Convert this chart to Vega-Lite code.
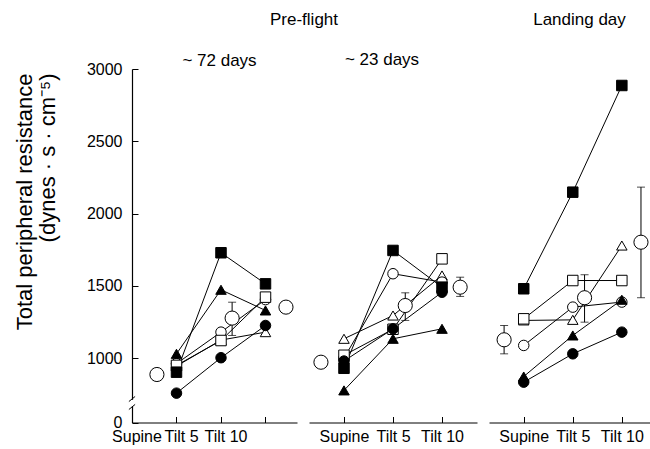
{
  "$schema": "https://vega.github.io/schema/vega-lite/v6.json",
  "padding": {"left": 12, "top": 11, "right": 0, "bottom": 0},
  "config": {
    "font": "Liberation Sans",
    "view": {"stroke": null},
    "axis": {"grid": false, "domainColor": "black", "tickColor": "black", "labelColor": "black", "labelFontSize": 16, "tickSize": -6, "titleColor": "black", "labelFlush": false},
    "title": {"fontSize": 17, "fontWeight": "normal", "color": "black"}
  },
  "datasets": {
    "ind": [
      {"p": "A", "s": "OT", "x": 1, "v": 945}, {"p": "A", "s": "OT", "x": 2, "v": 1125}, {"p": "A", "s": "OT", "x": 3, "v": 1180},
      {"p": "A", "s": "OC", "x": 1, "v": 962}, {"p": "A", "s": "OC", "x": 2, "v": 1180}, {"p": "A", "s": "OC", "x": 3, "v": 1405},
      {"p": "A", "s": "OS", "x": 1, "v": 950}, {"p": "A", "s": "OS", "x": 2, "v": 1122}, {"p": "A", "s": "OS", "x": 3, "v": 1422},
      {"p": "A", "s": "FC", "x": 1, "v": 758}, {"p": "A", "s": "FC", "x": 2, "v": 1003}, {"p": "A", "s": "FC", "x": 3, "v": 1226},
      {"p": "A", "s": "FT", "x": 1, "v": 1030}, {"p": "A", "s": "FT", "x": 2, "v": 1473}, {"p": "A", "s": "FT", "x": 3, "v": 1330},
      {"p": "A", "s": "FS", "x": 1, "v": 903}, {"p": "A", "s": "FS", "x": 2, "v": 1729}, {"p": "A", "s": "FS", "x": 3, "v": 1514},
      {"p": "B", "s": "OT", "x": 1, "v": 1134}, {"p": "B", "s": "OT", "x": 2, "v": 1295}, {"p": "B", "s": "OT", "x": 3, "v": 1572},
      {"p": "B", "s": "OC", "x": 1, "v": 1000}, {"p": "B", "s": "OC", "x": 2, "v": 1584}, {"p": "B", "s": "OC", "x": 3, "v": 1526},
      {"p": "B", "s": "OS", "x": 1, "v": 1020}, {"p": "B", "s": "OS", "x": 2, "v": 1200}, {"p": "B", "s": "OS", "x": 3, "v": 1687},
      {"p": "B", "s": "FC", "x": 1, "v": 980}, {"p": "B", "s": "FC", "x": 2, "v": 1203}, {"p": "B", "s": "FC", "x": 3, "v": 1456},
      {"p": "B", "s": "FT", "x": 1, "v": 777}, {"p": "B", "s": "FT", "x": 2, "v": 1134}, {"p": "B", "s": "FT", "x": 3, "v": 1203},
      {"p": "B", "s": "FS", "x": 1, "v": 930}, {"p": "B", "s": "FS", "x": 2, "v": 1745}, {"p": "B", "s": "FS", "x": 3, "v": 1491},
      {"p": "C", "s": "OT", "x": 1, "v": 1261}, {"p": "C", "s": "OT", "x": 2, "v": 1265}, {"p": "C", "s": "OT", "x": 3, "v": 1779},
      {"p": "C", "s": "OC", "x": 1, "v": 1088}, {"p": "C", "s": "OC", "x": 2, "v": 1353}, {"p": "C", "s": "OC", "x": 3, "v": 1388},
      {"p": "C", "s": "OS", "x": 1, "v": 1272}, {"p": "C", "s": "OS", "x": 2, "v": 1537}, {"p": "C", "s": "OS", "x": 3, "v": 1537},
      {"p": "C", "s": "FC", "x": 1, "v": 834}, {"p": "C", "s": "FC", "x": 2, "v": 1030}, {"p": "C", "s": "FC", "x": 3, "v": 1180},
      {"p": "C", "s": "FT", "x": 1, "v": 873}, {"p": "C", "s": "FT", "x": 2, "v": 1157}, {"p": "C", "s": "FT", "x": 3, "v": 1404},
      {"p": "C", "s": "FS", "x": 1, "v": 1480}, {"p": "C", "s": "FS", "x": 2, "v": 2148}, {"p": "C", "s": "FS", "x": 3, "v": 2886}
    ],
    "mean": [
      {"p": "A", "x": 0.56, "v": 887}, {"p": "A", "x": 2.25, "v": 1277, "lo": 1157, "hi": 1387}, {"p": "A", "x": 3.46, "v": 1353},
      {"p": "B", "x": 0.53, "v": 972}, {"p": "B", "x": 2.25, "v": 1364, "lo": 1261, "hi": 1452}, {"p": "B", "x": 3.37, "v": 1491, "lo": 1427, "hi": 1560},
      {"p": "C", "x": 0.60, "v": 1127, "lo": 1030, "hi": 1226}, {"p": "C", "x": 2.24, "v": 1418, "lo": 1249, "hi": 1577}, {"p": "C", "x": 3.39, "v": 1802, "lo": 1418, "hi": 2183}
    ]
  },
  "title": {"text": "Pre-flight", "anchor": "start", "frame": "group", "dx": 138, "offset": -18},
  "bounds": "flush",
  "spacing": 12,
  "resolve": {"scale": {"x": "independent", "y": "independent", "shape": "independent", "fill": "independent"}},
  "hconcat": [
    {
      "width": 165, "height": 353.5,
      "title": {"text": "~ 72 days", "dx": 5, "offset": -9},
      "encoding": {
        "x": {"field": "x", "type": "quantitative", "scale": {"domain": [0, 3.708], "nice": false, "zero": false},
          "axis": {"values": [1, 2, 3], "labelExpr": "datum.value == 1 ? 'Supine' : datum.value == 2 ? 'Tilt 5' : 'Tilt 10'", "title": null, "labelOffset": -40, "labelPadding": 12, "labelOverlap": false}},
        "y": {"field": "v", "type": "quantitative", "scale": {"domain": [555, 3000], "nice": false, "zero": false},
          "axis": {"values": [555, 1000, 1500, 2000, 2500, 3000], "format": "d", "labelExpr": "datum.value < 900 ? '0' : datum.label", "domain": true, "domainWidth": 1.2, "labelPadding": 16,
            "title": ["Total peripheral resistance", "(dynes · s · cm⁻⁵)"], "titleFontSize": 22, "titleFontWeight": "normal", "titleAlign": "right", "titleX": -96, "titleY": 4, "titleLineHeight": 23}}
      },
      "layer": [
        {"data": {"name": "ind"}, "transform": [{"filter": "datum.p == 'A'"}], "mark": {"type": "line", "color": "black", "strokeWidth": 1}, "encoding": {"detail": {"field": "s"}}},
        {"data": {"name": "mean"}, "transform": [{"filter": "datum.p == 'A' && datum.lo != null"}], "mark": {"type": "rule", "color": "black", "strokeWidth": 1},
          "encoding": {"y": {"field": "lo", "type": "quantitative"}, "y2": {"field": "hi"}}},
        {"data": {"name": "mean"}, "transform": [{"filter": "datum.p == 'A' && datum.lo != null"}], "mark": {"type": "tick", "color": "black", "orient": "horizontal", "size": 8, "thickness": 1},
          "encoding": {"y": {"field": "lo", "type": "quantitative"}}},
        {"data": {"name": "mean"}, "transform": [{"filter": "datum.p == 'A' && datum.lo != null"}], "mark": {"type": "tick", "color": "black", "orient": "horizontal", "size": 8, "thickness": 1},
          "encoding": {"y": {"field": "hi", "type": "quantitative"}}},
        {"data": {"name": "ind"}, "transform": [{"filter": "datum.p == 'A'"}], "mark": {"type": "point", "filled": true, "stroke": "black", "strokeWidth": 1, "opacity": 1, "size": 110},
          "encoding": {
            "shape": {"field": "s", "type": "nominal", "scale": {"domain": ["FS", "FT", "FC", "OS", "OT", "OC"], "range": ["square", "triangle-up", "circle", "square", "triangle-up", "circle"]}, "legend": null},
            "fill": {"field": "s", "type": "nominal", "scale": {"domain": ["FS", "FT", "FC", "OS", "OT", "OC"], "range": ["black", "black", "black", "white", "white", "white"]}, "legend": null}}},
        {"data": {"name": "mean"}, "transform": [{"filter": "datum.p == 'A'"}], "mark": {"type": "point", "shape": "circle", "filled": true, "fill": "white", "stroke": "black", "strokeWidth": 1, "opacity": 1, "size": 200}},
        {"data": {"name": "mean"}, "transform": [{"filter": "datum.p == 'A' && datum.x < 1"}], "mark": {"type": "rule", "color": "white", "strokeWidth": 4},
          "encoding": {"x": {"datum": 0, "type": "quantitative"}, "y": {"datum": 668, "type": "quantitative"}, "y2": {"datum": 712}}},
        {"data": {"name": "mean"}, "transform": [{"filter": "datum.p == 'A' && datum.x < 1"}], "mark": {"type": "rule", "color": "black", "strokeWidth": 1},
          "encoding": {"x": {"datum": -0.07, "type": "quantitative"}, "x2": {"datum": 0.07}, "y": {"datum": 700, "type": "quantitative"}, "y2": {"datum": 735}}},
        {"data": {"name": "mean"}, "transform": [{"filter": "datum.p == 'A' && datum.x < 1"}], "mark": {"type": "rule", "color": "black", "strokeWidth": 1},
          "encoding": {"x": {"datum": -0.07, "type": "quantitative"}, "x2": {"datum": 0.07}, "y": {"datum": 645, "type": "quantitative"}, "y2": {"datum": 680}}}
      ]
    },
    {
      "width": 168, "height": 353.5,
      "title": {"text": "~ 23 days", "dx": -11, "offset": 0},
      "encoding": {
        "x": {"field": "x", "type": "quantitative", "scale": {"domain": [0.286, 3.714], "nice": false, "zero": false},
          "axis": {"values": [1, 2, 3], "labelExpr": "datum.value == 1 ? 'Supine' : datum.value == 2 ? 'Tilt 5' : 'Tilt 10'", "title": null, "labelPadding": 12, "labelOverlap": false}},
        "y": {"field": "v", "type": "quantitative", "scale": {"domain": [555, 3000], "nice": false, "zero": false}, "axis": null}
      },
      "layer": [
        {"data": {"name": "ind"}, "transform": [{"filter": "datum.p == 'B'"}], "mark": {"type": "line", "color": "black", "strokeWidth": 1}, "encoding": {"detail": {"field": "s"}}},
        {"data": {"name": "mean"}, "transform": [{"filter": "datum.p == 'B' && datum.lo != null"}], "mark": {"type": "rule", "color": "black", "strokeWidth": 1},
          "encoding": {"y": {"field": "lo", "type": "quantitative", "axis": null}, "y2": {"field": "hi"}}},
        {"data": {"name": "mean"}, "transform": [{"filter": "datum.p == 'B' && datum.lo != null"}], "mark": {"type": "tick", "color": "black", "orient": "horizontal", "size": 8, "thickness": 1},
          "encoding": {"y": {"field": "lo", "type": "quantitative", "axis": null}}},
        {"data": {"name": "mean"}, "transform": [{"filter": "datum.p == 'B' && datum.lo != null"}], "mark": {"type": "tick", "color": "black", "orient": "horizontal", "size": 8, "thickness": 1},
          "encoding": {"y": {"field": "hi", "type": "quantitative", "axis": null}}},
        {"data": {"name": "ind"}, "transform": [{"filter": "datum.p == 'B'"}], "mark": {"type": "point", "filled": true, "stroke": "black", "strokeWidth": 1, "opacity": 1, "size": 110},
          "encoding": {
            "shape": {"field": "s", "type": "nominal", "scale": {"domain": ["FS", "FT", "FC", "OS", "OT", "OC"], "range": ["square", "triangle-up", "circle", "square", "triangle-up", "circle"]}, "legend": null},
            "fill": {"field": "s", "type": "nominal", "scale": {"domain": ["FS", "FT", "FC", "OS", "OT", "OC"], "range": ["black", "black", "black", "white", "white", "white"]}, "legend": null}}},
        {"data": {"name": "mean"}, "transform": [{"filter": "datum.p == 'B'"}], "mark": {"type": "point", "shape": "circle", "filled": true, "fill": "white", "stroke": "black", "strokeWidth": 1, "opacity": 1, "size": 200}}
      ]
    },
    {
      "width": 161, "height": 353.5,
      "title": {"text": "Landing day", "dx": 10, "offset": 40},
      "encoding": {
        "x": {"field": "x", "type": "quantitative", "scale": {"domain": [0.292, 3.574], "nice": false, "zero": false},
          "axis": {"values": [1, 2, 3], "labelExpr": "datum.value == 1 ? 'Supine' : datum.value == 2 ? 'Tilt 5' : 'Tilt 10'", "title": null, "labelPadding": 12, "labelOverlap": false}},
        "y": {"field": "v", "type": "quantitative", "scale": {"domain": [555, 3000], "nice": false, "zero": false}, "axis": null}
      },
      "layer": [
        {"data": {"name": "ind"}, "transform": [{"filter": "datum.p == 'C'"}], "mark": {"type": "line", "color": "black", "strokeWidth": 1}, "encoding": {"detail": {"field": "s"}}},
        {"data": {"name": "mean"}, "transform": [{"filter": "datum.p == 'C' && datum.lo != null"}], "mark": {"type": "rule", "color": "black", "strokeWidth": 1},
          "encoding": {"y": {"field": "lo", "type": "quantitative", "axis": null}, "y2": {"field": "hi"}}},
        {"data": {"name": "mean"}, "transform": [{"filter": "datum.p == 'C' && datum.lo != null"}], "mark": {"type": "tick", "color": "black", "orient": "horizontal", "size": 8, "thickness": 1},
          "encoding": {"y": {"field": "lo", "type": "quantitative", "axis": null}}},
        {"data": {"name": "mean"}, "transform": [{"filter": "datum.p == 'C' && datum.lo != null"}], "mark": {"type": "tick", "color": "black", "orient": "horizontal", "size": 8, "thickness": 1},
          "encoding": {"y": {"field": "hi", "type": "quantitative", "axis": null}}},
        {"data": {"name": "ind"}, "transform": [{"filter": "datum.p == 'C'"}], "mark": {"type": "point", "filled": true, "stroke": "black", "strokeWidth": 1, "opacity": 1, "size": 110},
          "encoding": {
            "shape": {"field": "s", "type": "nominal", "scale": {"domain": ["FS", "FT", "FC", "OS", "OT", "OC"], "range": ["square", "triangle-up", "circle", "square", "triangle-up", "circle"]}, "legend": null},
            "fill": {"field": "s", "type": "nominal", "scale": {"domain": ["FS", "FT", "FC", "OS", "OT", "OC"], "range": ["black", "black", "black", "white", "white", "white"]}, "legend": null}}},
        {"data": {"name": "mean"}, "transform": [{"filter": "datum.p == 'C'"}], "mark": {"type": "point", "shape": "circle", "filled": true, "fill": "white", "stroke": "black", "strokeWidth": 1, "opacity": 1, "size": 200}}
      ]
    }
  ]
}
